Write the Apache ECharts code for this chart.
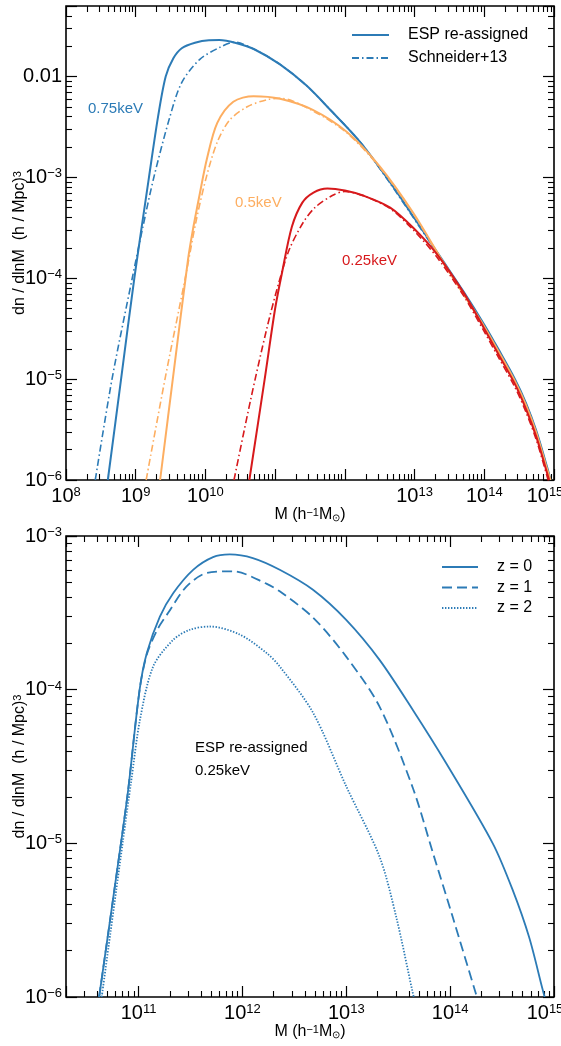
<!DOCTYPE html>
<html>
<head>
<meta charset="utf-8">
<script src="https://cdn.jsdelivr.net/npm/echarts@6/dist/echarts.min.js"></script>
<style>html,body{margin:0;padding:0;background:#fff}#c{width:561px;height:1046px}</style>
</head>
<body>
<div id="c"></div>
<script>
// ---- data: values, stored as log10(M [h^-1 Msun]) and log10(dn/dlnM [(h/Mpc)^3]) ----
// top panel
const esp075M = [8.60, 8.79, 8.98, 9.19, 9.32, 9.43, 9.54, 9.66, 9.85, 10.05, 10.20, 10.45, 10.70, 11.07, 11.45, 11.79, 12.22, 12.65, 13.08, 13.41, 13.70, 14.00, 14.20, 14.44, 14.60, 14.75, 14.90, 14.95];
const esp075N = [-6.0, -5.0, -4.0, -3.0, -2.4, -2.0, -1.82, -1.72, -1.665, -1.64, -1.638, -1.67, -1.73, -1.88, -2.09, -2.33, -2.65, -3.05, -3.49, -3.83, -4.13, -4.46, -4.70, -5.0, -5.24, -5.52, -5.87, -6.0];
const sch075M = [8.42, 8.66, 8.95, 9.10, 9.26, 9.49, 9.66, 9.92, 10.21, 10.42, 10.70, 11.07, 11.45, 11.79, 12.22, 12.65, 13.08, 13.41, 13.70, 14.00, 14.20, 14.44, 14.60, 14.75, 14.90, 14.95];
const sch075N = [-6.0, -5.0, -4.0, -3.5, -3.0, -2.40, -2.06, -1.83, -1.71, -1.66, -1.73, -1.88, -2.09, -2.33, -2.65, -3.06, -3.50, -3.84, -4.14, -4.47, -4.71, -5.01, -5.25, -5.53, -5.88, -6.0];
const esp05M = [9.35, 9.55, 9.75, 9.82, 9.92, 10.02, 10.17, 10.40, 10.69, 11.07, 11.54, 12.03, 12.50, 12.98, 13.41, 13.70, 14.00, 14.20, 14.44, 14.60, 14.75, 14.90, 14.95];
const esp05N = [-6.0, -4.9, -3.815, -3.52, -3.16, -2.82, -2.46, -2.25, -2.195, -2.22, -2.33, -2.55, -2.89, -3.35, -3.84, -4.15, -4.48, -4.72, -5.02, -5.26, -5.54, -5.89, -6.0];
const sch05M = [9.15, 9.42, 9.71, 9.87, 10.02, 10.17, 10.35, 10.60, 10.88, 11.07, 11.54, 12.03, 12.50, 12.98, 13.41, 13.70, 14.00, 14.20, 14.44, 14.60, 14.75, 14.90, 14.95];
const sch05N = [-6.0, -5.0, -4.0, -3.42, -2.98, -2.65, -2.43, -2.30, -2.23, -2.215, -2.34, -2.56, -2.90, -3.36, -3.85, -4.16, -4.49, -4.73, -5.03, -5.27, -5.55, -5.90, -6.0];
const esp025M = [10.63, 10.85, 11.00, 11.10, 11.24, 11.39, 11.55, 11.75, 12.00, 12.26, 12.65, 12.98, 13.32, 13.70, 14.00, 14.20, 14.44, 14.60, 14.75, 14.90, 14.93];
const esp025N = [-6.0, -5.0, -4.3, -3.94, -3.49, -3.25, -3.15, -3.11, -3.13, -3.18, -3.30, -3.50, -3.76, -4.14, -4.50, -4.75, -5.05, -5.30, -5.58, -5.93, -6.0];
const sch025M = [10.41, 10.65, 10.88, 11.05, 11.20, 11.40, 11.57, 11.82, 12.00, 12.26, 12.65, 12.98, 13.32, 13.70, 14.00, 14.20, 14.44, 14.60, 14.75, 14.90, 14.93];
const sch025N = [-6.0, -5.2, -4.5, -4.05, -3.72, -3.45, -3.30, -3.18, -3.14, -3.18, -3.31, -3.52, -3.79, -4.17, -4.53, -4.78, -5.08, -5.33, -5.61, -5.96, -6.03];
// bottom panel (ESP re-assigned, 0.25keV, three redshifts)
const z0M = [10.62, 10.83, 10.90, 11.01, 11.08, 11.205, 11.333, 11.525, 11.717, 11.878, 12.10, 12.359, 12.679, 12.999, 13.32, 13.641, 13.962, 14.41, 14.60, 14.76, 14.89, 14.91];
const z0N = [-6.0, -5.0, -4.65, -4.0, -3.76, -3.524, -3.372, -3.22, -3.137, -3.12, -3.144, -3.22, -3.35, -3.546, -3.806, -4.132, -4.479, -5.0, -5.30, -5.61, -5.95, -6.0];
const z1M = [10.62, 10.83, 10.90, 11.01, 11.08, 11.18, 11.285, 11.46, 11.66, 11.91, 12.23, 12.359, 12.679, 12.999, 13.32, 13.641, 13.833, 14.025, 14.249, 14.26];
const z1N = [-6.0, -5.0, -4.65, -4.0, -3.77, -3.61, -3.50, -3.33, -3.24, -3.23, -3.31, -3.36, -3.53, -3.785, -4.11, -4.64, -5.06, -5.48, -5.98, -6.0];
const z2M = [10.645, 10.846, 10.93, 11.013, 11.14, 11.333, 11.494, 11.686, 11.97, 12.23, 12.36, 12.68, 13.00, 13.32, 13.48, 13.641, 13.65];
const z2N = [-6.0, -5.0, -4.59, -4.197, -3.85, -3.676, -3.61, -3.589, -3.64, -3.76, -3.85, -4.15, -4.63, -5.087, -5.477, -5.976, -6.0];
// axis ranges
const topX = [1e8, 1e15], topY = [1e-6, 0.05];
const botX = [2e10, 1e15], botY = [1e-6, 1e-3];
const topXHiddenExp = [11, 12]; // these decade labels are absent in the top panel

const FONT = '"Liberation Sans", Arial, Helvetica, sans-serif';
const BLUE = '#2c7bb6', ORANGE = '#fdae61', RED = '#d7191c';
const MINUS = '\u2212';

const pts = (ms, ns) => ms.map((m, i) => [Math.pow(10, m), Math.pow(10, ns[i])]);
const isPow = v => Math.abs(Math.log10(v) - Math.round(Math.log10(v))) < 1e-6;
const expStr = e => (e < 0 ? MINUS + (-e) : '' + e);

function powLabel(hide, shiftLast) {
  return v => {
    if (!isPow(v)) return '';
    const e = Math.round(Math.log10(v));
    if (hide && hide.indexOf(e) >= 0) return '';
    if (shiftLast && e === shiftLast) return '{b|10}{sr|' + expStr(e) + '}';
    return '{b|10}{s|' + expStr(e) + '}';
  };
}
const labelRich = {
  b: { fontSize: 20, fontFamily: FONT, color: '#000' },
  s: { fontSize: 13, fontFamily: FONT, color: '#000', verticalAlign: 'top', lineHeight: 12 },
  sr: { fontSize: 13, fontFamily: FONT, color: '#000', verticalAlign: 'top', lineHeight: 12, padding: [0, 18, 0, 0] }
};

// inward major + minor ticks (native ECharts axis ticks)
const TICK = { show: true, inside: true, length: 11, lineStyle: { color: '#000', width: 1.2 } };
const MINOR = { show: true, splitNumber: 9, length: 6, lineStyle: { color: '#000', width: 1.1 } };

const DASHDOT = [7, 3, 1.5, 3];
function line(name, gi, ms, ns, color, type, width) {
  return {
    type: 'line', name, xAxisIndex: gi, yAxisIndex: gi, data: pts(ms, ns),
    symbol: 'none', smooth: 0.3, clip: true,
    lineStyle: { color, width: width || 2, type: type || 'solid' },
    itemStyle: { color }
  };
}

const yName = '{n|dn / dlnM  (h / Mpc)}{s|3}';
const xName = '{n|M (h}{s|' + MINUS + '1}{n|M}{u|\u2299}{n|)}';
const nameRich = {
  n: { fontSize: 16, fontFamily: FONT, color: '#000' },
  s: { fontSize: 11, fontFamily: FONT, color: '#000', verticalAlign: 'top', lineHeight: 8 },
  u: { fontSize: 10, fontFamily: FONT, color: '#000', verticalAlign: 'bottom', lineHeight: 10 }
};

const grid = [
  { left: 66, top: 6, width: 488, height: 474, show: true, borderColor: '#000', borderWidth: 1.6, backgroundColor: 'transparent', outerBoundsMode: 'none' },
  { left: 66, top: 536, width: 488, height: 461, show: true, borderColor: '#000', borderWidth: 1.6, backgroundColor: 'transparent', outerBoundsMode: 'none' }
];

function xAxis(gi, ext, interval, hide) {
  const o = {
    type: 'log', logBase: 10, gridIndex: gi, min: ext[0], max: ext[1], position: 'bottom',
    axisLine: { show: false }, axisTick: TICK, minorTick: MINOR, splitLine: { show: false },
    axisLabel: { formatter: powLabel(hide, 15), rich: labelRich, margin: 6, showMinLabel: true, showMaxLabel: true, hideOverlap: false },
    name: xName, nameLocation: 'middle', nameGap: 27, nameMoveOverlap: false, nameTextStyle: { rich: nameRich }
  };
  if (interval) o.interval = interval; else o.splitNumber = 5;
  return o;
}
function xMirror(gi, ext, interval) {
  const o = {
    type: 'log', logBase: 10, gridIndex: gi, min: ext[0], max: ext[1], position: 'top',
    axisLine: { show: false }, axisTick: TICK, minorTick: MINOR, splitLine: { show: false },
    axisLabel: { show: false }
  };
  if (interval) o.interval = interval; else o.splitNumber = 5;
  return o;
}
function yAxis(gi, ext, topLabelAsDecimal) {
  return {
    type: 'log', logBase: 10, gridIndex: gi, min: ext[0], max: ext[1], splitNumber: 5, position: 'left',
    axisLine: { show: false }, axisTick: TICK, minorTick: MINOR, splitLine: { show: false },
    axisLabel: {
      formatter: v => {
        if (topLabelAsDecimal && Math.abs(v - 0.01) < 1e-9) return '{b|0.01}';
        return powLabel()(v);
      },
      rich: labelRich, margin: 4, showMinLabel: true, showMaxLabel: true, hideOverlap: false
    },
    name: yName, nameLocation: 'middle', nameGap: 38, nameRotate: 90, nameMoveOverlap: false, nameTextStyle: { rich: nameRich }
  };
}
function yMirror(gi, ext) {
  return {
    type: 'log', logBase: 10, gridIndex: gi, min: ext[0], max: ext[1], splitNumber: 5, position: 'right',
    axisLine: { show: false }, axisTick: TICK, minorTick: MINOR, splitLine: { show: false },
    axisLabel: { show: false }
  };
}

const series = [
  line('ESP re-assigned', 0, esp075M, esp075N, BLUE, 'solid', 2),
  line('Schneider+13', 0, sch075M, sch075N, BLUE, DASHDOT, 1.6),
  line('ESP 0.5keV', 0, esp05M, esp05N, ORANGE, 'solid', 2),
  line('Schneider 0.5keV', 0, sch05M, sch05N, ORANGE, DASHDOT, 1.6),
  line('ESP 0.25keV', 0, esp025M, esp025N, RED, 'solid', 2),
  line('Schneider 0.25keV', 0, sch025M, sch025N, RED, DASHDOT, 1.6),
  line('z = 0', 1, z0M, z0N, BLUE, 'solid', 1.8),
  line('z = 1', 1, z1M, z1N, BLUE, [10, 5], 1.8),
  line('z = 2', 1, z2M, z2N, BLUE, [1.4, 1.6], 1.8)
];

const legendText = { fontSize: 16, fontFamily: FONT, color: '#000', padding: [0, 0, 0, 14] };
const annotations = [
  { type: 'text', x: 88, y: 109, style: { text: '0.75keV', fill: BLUE, font: '15px ' + FONT, verticalAlign: 'middle' } },
  { type: 'text', x: 235, y: 203, style: { text: '0.5keV', fill: ORANGE, font: '15px ' + FONT, verticalAlign: 'middle' } },
  { type: 'text', x: 342, y: 261, style: { text: '0.25keV', fill: RED, font: '15px ' + FONT, verticalAlign: 'middle' } },
  { type: 'text', x: 195, y: 748, style: { text: 'ESP re-assigned', fill: '#000', font: '15px ' + FONT, verticalAlign: 'middle' } },
  { type: 'text', x: 195, y: 771, style: { text: '0.25keV', fill: '#000', font: '15px ' + FONT, verticalAlign: 'middle' } }
];
const option = {
  animation: false,
  backgroundColor: '#fff',
  grid,
  xAxis: [xAxis(0, topX, 1, topXHiddenExp), xAxis(1, botX, null, null), xMirror(0, topX, 1), xMirror(1, botX, null)],
  yAxis: [yAxis(0, topY, true), yAxis(1, botY, false), yMirror(0, topY), yMirror(1, botY)],
  legend: [
    { data: ['ESP re-assigned', 'Schneider+13'], left: 351, top: 27, orient: 'vertical', padding: 0,
      itemWidth: 37, itemHeight: 14, itemGap: 7, selectedMode: false, textStyle: legendText,
      itemStyle: { opacity: 0, borderWidth: 0 } },
    { data: ['z = 0', 'z = 1', 'z = 2'], left: 441, top: 559, orient: 'vertical', padding: 0,
      itemWidth: 36, itemHeight: 14, itemGap: 4.5, selectedMode: false, textStyle: legendText,
      itemStyle: { opacity: 0, borderWidth: 0 } }
  ],
  graphic: annotations,
  series
};
const chart = echarts.init(document.getElementById('c'), null, { renderer: 'canvas' });
chart.setOption(option);
</script>
</body>
</html>
